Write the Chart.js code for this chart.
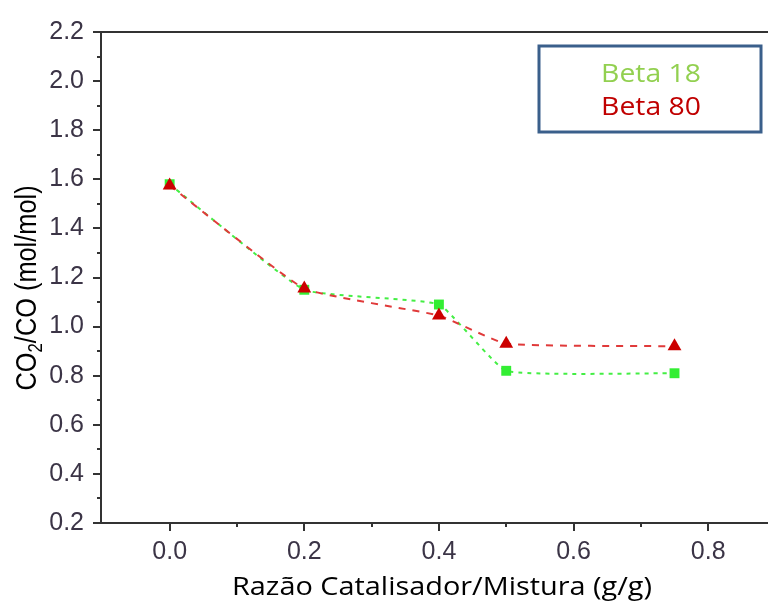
<!DOCTYPE html>
<html>
<head>
<meta charset="utf-8">
<script src="https://cdn.jsdelivr.net/npm/chart.js@4.4.1/dist/chart.umd.min.js"></script>
<style>
  html, body { margin: 0; padding: 0; background: #fff; overflow: hidden; }
  #wrap { width: 768px; height: 601px; }
</style>
</head>
<body>
<div id="wrap"><canvas id="chartRazao"></canvas></div>
<script>
const razao = [0, 0.2, 0.4, 0.5, 0.75];
const beta18 = [1.58, 1.15, 1.09, 0.82, 0.81];
const beta80 = [1.575, 1.155, 1.045, 0.93, 0.92];
const xTicks = [0, 0.2, 0.4, 0.6, 0.8];
const yTicks = [0.2, 0.4, 0.6, 0.8, 1.0, 1.2, 1.4, 1.6, 1.8, 2.0, 2.2];
const seriesNames = ["Beta 18", "Beta 80"];

const tickFont = { family: "'Liberation Sans', Arial, sans-serif", size: 25 };
const tickColor = "#3b3446";
const axisColor = "#333333";

// eixos extras, ticks menores, titulos e legenda
const extras = {
    id: "extras",
    afterDraw(chart) {
        const ctx = chart.ctx;
        const area = chart.chartArea;
        const xs = chart.scales.x;
        const ys = chart.scales.y;
        ctx.save();
        ctx.strokeStyle = axisColor;
        ctx.lineWidth = 2;

        ctx.beginPath();
        ctx.moveTo(area.left - 8, area.top);
        ctx.lineTo(chart.width, area.top);
        ctx.moveTo(area.left - 1, area.bottom);
        ctx.lineTo(chart.width, area.bottom);
        ctx.stroke();

        for (let i = 2; i <= 22; i++) {
            const py = Math.round(ys.getPixelForValue(i / 10));
            const len = i % 2 === 0 ? 8 : 4;
            ctx.beginPath();
            ctx.moveTo(area.left - len, py);
            ctx.lineTo(area.left, py);
            ctx.stroke();
        }
        for (let i = 0; i <= 8; i++) {
            const px = Math.round(xs.getPixelForValue(i / 10));
            const len = i % 2 === 0 ? 8 : 4;
            ctx.beginPath();
            ctx.moveTo(px, area.bottom);
            ctx.lineTo(px, area.bottom + len);
            ctx.stroke();
        }

        // titulo y com subscrito
        ctx.fillStyle = "#000";
        ctx.translate(25, 288);
        ctx.rotate(-Math.PI / 2);
        ctx.scale(0.845, 1);
        const big = "30px 'Liberation Sans', Arial, sans-serif";
        const small = "20px 'Liberation Sans', Arial, sans-serif";
        ctx.font = big;
        const w1 = ctx.measureText("CO").width;
        const w3 = ctx.measureText("/CO (mol/mol)").width;
        ctx.font = small;
        const w2 = ctx.measureText("2").width;
        let tx = -(w1 + w2 + w3) / 2;
        ctx.textBaseline = "alphabetic";
        ctx.textAlign = "left";
        ctx.font = big;
        ctx.fillText("CO", tx, 11);
        tx += w1;
        ctx.font = small;
        ctx.fillText("2", tx, 17);
        tx += w2;
        ctx.font = big;
        ctx.fillText("/CO (mol/mol)", tx, 11);
        ctx.setTransform(1, 0, 0, 1, 0, 0);

        ctx.textAlign = "center";
        ctx.fillStyle = "#000";
        ctx.font = "25px 'Open Sans', sans-serif";
        ctx.translate(442, 595);
        ctx.scale(1.155, 1);
        ctx.fillText("Razão Catalisador/Mistura (g/g)", 0, 0);
        ctx.setTransform(1, 0, 0, 1, 0, 0);

        // legenda
        ctx.strokeStyle = "#3a5f8b";
        ctx.lineWidth = 3;
        ctx.strokeRect(539, 46, 222, 86);
        ctx.font = "26px 'Open Sans', sans-serif";
        ctx.translate(651, 0);
        ctx.scale(1.09, 1);
        ctx.fillStyle = "#92d050";
        ctx.fillText(seriesNames[0], 0, 82);
        ctx.fillStyle = "#c00000";
        ctx.fillText(seriesNames[1], 0, 115);
        ctx.restore();
    }
};

new Chart(document.getElementById("chartRazao"), {
    type: "line",
    data: {
        datasets: [
            {
                label: seriesNames[0],
                data: razao.map((x, i) => ({ x: x, y: beta18[i] })),
                borderColor: "#44ee44",
                backgroundColor: "#33ee33",
                borderWidth: 2,
                borderDash: [4, 5],
                pointStyle: "rect",
                pointRadius: 7,
                pointBorderWidth: 0,
                tension: 0.12,
                order: 1
            },
            {
                label: seriesNames[1],
                data: razao.map((x, i) => ({ x: x, y: beta80[i] })),
                borderColor: "#e03a3a",
                backgroundColor: "#cc0000",
                borderWidth: 2,
                borderDash: [7, 7],
                pointStyle: "triangle",
                pointRadius: 8,
                pointBorderWidth: 0,
                tension: 0.12,
                order: 0
            }
        ]
    },
    options: {
        responsive: true,
        maintainAspectRatio: false,
        animation: false,
        layout: { padding: { top: 32, left: 0, right: 0, bottom: 0 } },
        plugins: {
            legend: { display: false },
            tooltip: { enabled: false }
        },
        scales: {
            x: {
                type: "linear",
                min: -0.102,
                max: 0.877,
                afterFit: s => { s.height = 78; },
                afterBuildTicks: s => { s.ticks = xTicks.map(v => ({ value: v })); },
                grid: { display: false },
                border: { display: true, color: axisColor, width: 2 },
                ticks: {
                    font: tickFont,
                    color: tickColor,
                    padding: 6,
                    maxRotation: 0,
                    callback: v => v.toFixed(1)
                }
            },
            y: {
                type: "linear",
                min: 0.2,
                max: 2.2,
                afterFit: s => { s.width = 101; },
                afterBuildTicks: s => { s.ticks = yTicks.map(v => ({ value: v })); },
                grid: { display: false },
                border: { display: true, color: axisColor, width: 2 },
                ticks: {
                    font: tickFont,
                    color: tickColor,
                    padding: 9,
                    callback: v => v.toFixed(1)
                }
            }
        }
    },
    plugins: [extras]
});
</script>
</body>
</html>
